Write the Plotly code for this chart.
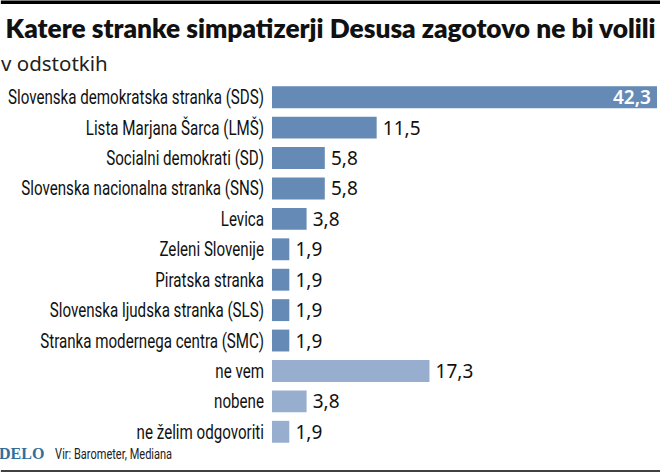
#!/usr/bin/env python3
import plotly.graph_objects as go

# labels and values, top to bottom
parties = [
    "Slovenska demokratska stranka (SDS)",
    "Lista Marjana Šarca (LMŠ)",
    "Socialni demokrati (SD)",
    "Slovenska nacionalna stranka (SNS)",
    "Levica",
    "Zeleni Slovenije",
    "Piratska stranka",
    "Slovenska ljudska stranka (SLS)",
    "Stranka modernega centra (SMC)",
    "ne vem",
    "nobene",
    "ne želim odgovoriti",
]
values = [42.3, 11.5, 5.8, 5.8, 3.8, 1.9, 1.9, 1.9, 1.9, 17.3, 3.8, 1.9]
value_labels = ["42,3", "11,5", "5,8", "5,8", "3,8", "1,9", "1,9", "1,9", "1,9", "17,3", "3,8", "1,9"]

DARK = "#658ab6"
LIGHT = "#97aecf"
bar_colors = [DARK] * 9 + [LIGHT] * 3

W, H = 660, 473
PLOT_LEFT, PLOT_RIGHT = 271.5, 657
PLOT_TOP, PLOT_BOTTOM = 81.5, 447.5

LABEL_FONT = "Roboto, sans-serif"
HEAD_FONT = "Noto Sans, Open Sans, sans-serif"
TITLE_FONT = "Lato, Noto Sans, sans-serif"


def px_x(x):
    return (x - PLOT_LEFT) / (PLOT_RIGHT - PLOT_LEFT)


def px_y(y):
    return (PLOT_BOTTOM - y) / (PLOT_BOTTOM - PLOT_TOP)


def add_text(text, x, y, family, size, color, anchor="left", weight=400):
    fig.add_annotation(text=text, xref="paper", yref="paper", x=px_x(x), y=px_y(y),
                       xanchor=anchor, yanchor="middle", showarrow=False,
                       font=dict(family=family, size=size, color=color, weight=weight))


# thin spaces keep the labels a little away from the bar ends
bar_text = [value_labels[0] + "\u2009"] + ["\u2009" + t for t in value_labels[1:]]

fig = go.Figure(
    go.Bar(
        x=values,
        y=parties,
        orientation="h",
        width=0.72,
        marker=dict(color=bar_colors, line=dict(width=0)),
        text=bar_text,
        textposition=["inside"] + ["outside"] * 11,
        insidetextanchor="end",
        textangle=0,
        constraintext="none",
        cliponaxis=False,
        insidetextfont=dict(family=HEAD_FONT, size=19, color="white", weight=600),
        outsidetextfont=dict(family=HEAD_FONT, size=19, color="#111111"),
    )
)

fig.update_layout(
    width=W,
    height=H,
    margin=dict(l=PLOT_LEFT, r=W - PLOT_RIGHT, t=PLOT_TOP, b=H - PLOT_BOTTOM, pad=0),
    paper_bgcolor="white",
    plot_bgcolor="white",
    showlegend=False,
    xaxis=dict(range=[0, 42.3], visible=False, automargin=False),
    yaxis=dict(
        autorange="reversed",
        automargin=False,
        showline=False,
        showgrid=False,
        ticks="outside",
        ticklen=3,
        tickcolor="rgba(0,0,0,0)",
        tickfont=dict(family=LABEL_FONT, size=20, color="#111111", weight=400),
    ),
)

add_text("Katere stranke simpatizerji Desusa zagotovo ne bi volili", 330, 27, TITLE_FONT, 26, "#111111",
         anchor="center", weight=800)
add_text("v odstotkih", -2, 62, HEAD_FONT, 20.5, "#222222")
add_text("<b>DELO</b>", -4, 454.5, "Liberation Serif, serif", 16, "#2f6f9a")
add_text("Vir: Barometer, Mediana", 112.5, 455, LABEL_FONT, 15, "#222222", anchor="center")

# top and bottom rules
for y_px, thick in [(1.5, 3.5), (471.5, 1.5)]:
    fig.add_shape(type="line", xref="paper", yref="paper", x0=px_x(0), x1=px_x(W),
                  y0=px_y(y_px), y1=px_y(y_px), line=dict(color="#000000", width=thick))

# no condensed font is installed, so fit the texts to the widths in the reference
condense = """
document.body.style.margin='0';
document.body.style.overflow='hidden';
var fit = function (el, w) {
  el.setAttribute('textLength', w);
  el.setAttribute('lengthAdjust', 'spacingAndGlyphs');
};
var ticks = document.querySelectorAll('.ytick text');
var k = 256 / Math.max.apply(null, Array.from(ticks).map(function (el) { return el.getComputedTextLength(); }));
ticks.forEach(function (el) { fit(el, el.getComputedTextLength() * k); });
document.querySelectorAll('.annotation-text').forEach(function (el) {
  if (el.textContent.indexOf('Vir:') === 0) { fit(el, 117); }
  if (el.textContent.indexOf('Katere') === 0) { fit(el, 650); }
});
"""

fig.write_html("out.html", config=dict(displayModeBar=False), post_script=condense)
